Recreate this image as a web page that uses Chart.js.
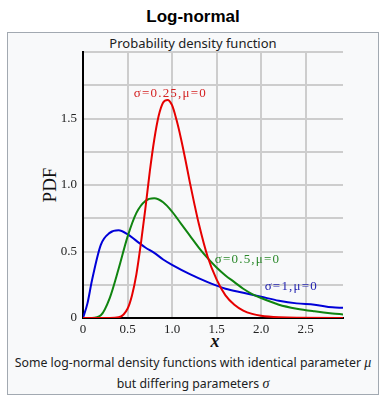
<html><head><title>Log-normal</title>
<style>
    body {
        margin: 0;
        background-color: #fff;
        font-family: "Noto Sans", Arial, sans-serif;
        color: #202122;
    }
    .title {
        position: absolute;
        left: 0; top: 7px; width: 386px;
        text-align: center;
        font-family: "Liberation Sans", Arial, sans-serif;
        font-weight: bold;
        font-size: 17px;
        color: #000;
    }
    .box {
        position: absolute;
        left: 7px; top: 32px;
        width: 370px; height: 361px;
        border: 1px solid #a2a9b1;
        background-color: #f8f9fa;
    }
    .sub {
        position: absolute;
        left: 0; top: 34px; width: 386px;
        text-align: center;
        font-size: 13px;
    }
    .caption {
        position: absolute;
        left: 0; top: 352px; width: 386px;
        text-align: center;
        font-size: 12.3px;
        line-height: 21px;
    }
    .caption i {
        font-family: "Liberation Serif", serif;
        font-size: 14px;
    }
    .ytitle {
        position: absolute;
        left: 30px; top: 174px; width: 40px;
        text-align: center;
        font-family: "Liberation Serif", serif;
        font-size: 19px;
        transform: rotate(-90deg);
        color: #111;
    }
    .xtitle {
        position: absolute;
        left: 205px; top: 331px; width: 20px;
        text-align: center;
        font-family: "Liberation Serif", serif;
        font-style: italic;
        font-weight: bold;
        font-size: 18px;
        color: #111;
    }
    #wrap {
        position: absolute;
        left: 0; top: 0;
        width: 392px; height: 412px;
    }
</style>
<script src="https://cdn.jsdelivr.net/npm/chart.js"></script>
</head>
<body>
    <div class="title">Log-normal</div>
    <div class="box"></div>
    <div class="sub">Probability density function</div>
    <div class="ytitle">PDF</div>
    <div class="xtitle">x</div>
    <div class="caption">Some log-normal density functions with identical parameter <i>μ</i><br>but differing parameters <i>σ</i></div>
    <div id="wrap"><canvas id="chart"></canvas></div>

<script>
// sigma = 0.25, mu = 0
const xRed = [0, 0.3, 0.4, 0.5, 0.55, 0.6, 0.65, 0.7, 0.75, 0.8, 0.85, 0.9, 0.95, 1.0, 1.05, 1.1, 1.15, 1.2, 1.25, 1.3, 1.4, 1.5, 1.6, 1.7, 1.8, 1.9, 2.0, 2.2, 2.4, 2.92];
const yRed = [0, 0, 0.005, 0.07, 0.17, 0.33, 0.56, 0.82, 1.10, 1.34, 1.52, 1.62, 1.64, 1.60, 1.49, 1.35, 1.19, 1.02, 0.86, 0.71, 0.46, 0.29, 0.17, 0.10, 0.056, 0.031, 0.017, 0.005, 0.001, 0];

// sigma = 0.5, mu = 0
const xGreen = [0, 0.1, 0.2, 0.3, 0.4, 0.5, 0.6, 0.7, 0.8, 0.9, 1.0, 1.1, 1.2, 1.3, 1.4, 1.5, 1.6, 1.7, 1.8, 1.9, 2.0, 2.2, 2.4, 2.6, 2.8, 2.92];
const yGreen = [0, 0, 0.02, 0.15, 0.37, 0.61, 0.79, 0.88, 0.90, 0.87, 0.80, 0.71, 0.62, 0.53, 0.45, 0.38, 0.32, 0.27, 0.22, 0.18, 0.15, 0.10, 0.07, 0.05, 0.034, 0.027];

// sigma = 1, mu = 0
const xBlue = [0, 0.05, 0.1, 0.2, 0.3, 0.4, 0.5, 0.6, 0.7, 0.8, 0.9, 1.0, 1.2, 1.4, 1.6, 1.8, 2.0, 2.2, 2.4, 2.6, 2.8, 2.92];
const yBlue = [0, 0.11, 0.28, 0.55, 0.64, 0.66, 0.63, 0.58, 0.53, 0.49, 0.44, 0.40, 0.33, 0.27, 0.22, 0.19, 0.16, 0.13, 0.11, 0.10, 0.08, 0.077];

const seriesLabels = ['σ=0.25,μ=0', 'σ=0.5,μ=0', 'σ=1,μ=0'];
// where each curve label sits, in data units (left x, middle y)
const labelX = [0.57, 1.48, 2.04];
const labelY = [1.69, 0.44, 0.235];
const labelColors = ['#d42323', '#2a882a', '#2323b0'];

const xTicks = [0, 0.5, 1.0, 1.5, 2.0, 2.5];
const yLabelTicks = [0, 0.5, 1.0, 1.5];

function pts(xs, ys) {
    return xs.map((x, i) => ({x: x, y: ys[i]}));
}

// curve labels
const curveLabels = {
    id: 'curveLabels',
    afterDatasetsDraw(chart) {
        const ctx = chart.ctx;
        ctx.save();
        ctx.font = '13px "Liberation Serif", serif';
        ctx.letterSpacing = '1.2px';
        ctx.textBaseline = 'middle';
        ctx.textAlign = 'left';
        seriesLabels.forEach((t, i) => {
            ctx.fillStyle = labelColors[i];
            ctx.fillText(t, chart.scales.x.getPixelForValue(labelX[i]), chart.scales.y.getPixelForValue(labelY[i]));
        });
        ctx.restore();
    }
};

const tickFont = {family: '"Liberation Serif", serif', size: 13};

new Chart(document.getElementById('chart'), {
    type: 'scatter',
    data: {
        datasets: [
            {data: pts(xRed, yRed), borderColor: '#e60000'},
            {data: pts(xGreen, yGreen), borderColor: '#108410'},
            {data: pts(xBlue, yBlue), borderColor: '#0000d8'}
        ].map(d => Object.assign(d, {showLine: true, pointRadius: 0, borderWidth: 2, cubicInterpolationMode: 'monotone'}))
    },
    options: {
        responsive: true,
        maintainAspectRatio: false,
        animation: false,
        layout: {padding: {left: 0, top: 52, right: 49, bottom: 0}},
        plugins: {legend: {display: false}, tooltip: {enabled: false}},
        scales: {
            x: {
                type: 'linear',
                min: 0,
                max: 2.92,
                afterFit: s => { s.height = 94; },
                afterBuildTicks: s => { s.ticks = xTicks.map(v => ({value: v})); },
                ticks: {
                    padding: 4,
                    color: '#222',
                    font: tickFont,
                    callback: v => v === 0 ? '0' : v.toFixed(1)
                },
                grid: {color: '#cdcdcd', lineWidth: 2, drawTicks: false},
                border: {color: '#000', width: 2}
            },
            y: {
                min: 0,
                max: 2,
                afterFit: s => { s.width = 83; },
                ticks: {
                    stepSize: 0.25,
                    padding: 6,
                    color: '#222',
                    font: tickFont,
                    callback: v => yLabelTicks.includes(v) ? (v === 0 ? '0' : v.toFixed(1)) : ''
                },
                grid: {color: '#cdcdcd', lineWidth: 2, drawTicks: false},
                border: {color: '#000', width: 2}
            }
        }
    },
    plugins: [curveLabels]
});
</script>
</body></html>
